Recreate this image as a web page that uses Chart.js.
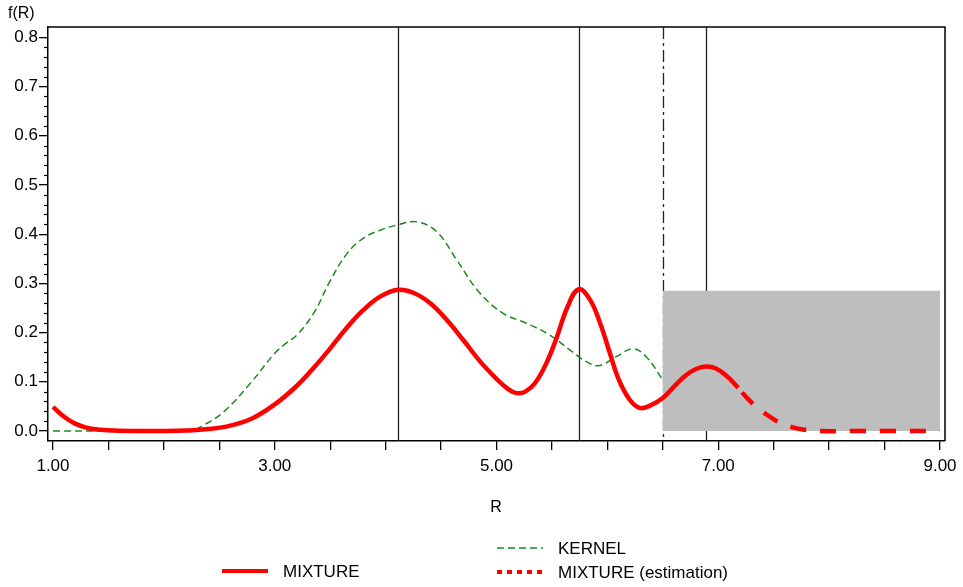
<!DOCTYPE html>
<html>
<head>
<meta charset="utf-8">
<script src="https://cdn.jsdelivr.net/npm/chart.js@4/dist/chart.umd.min.js"></script>
<style>
  html, body { margin: 0; padding: 0; background: #fff; }
  #wrap { width: 963px; height: 587px; position: relative; }
</style>
</head>
<body>
<div id="wrap"><canvas id="c" width="963" height="587"></canvas></div>
<script>
// ---- data ----
const mixtureR = [1.0, 1.1, 1.2, 1.3, 1.4, 1.55, 1.8, 2.0, 2.2, 2.4, 2.6, 2.8, 3.0, 3.2, 3.35, 3.5, 3.65, 3.8, 3.95, 4.11, 4.25, 4.4, 4.55, 4.7, 4.85, 5.0, 5.1, 5.18, 5.26, 5.35, 5.45, 5.54, 5.64, 5.74, 5.84, 5.93, 6.02, 6.1, 6.2, 6.29, 6.38, 6.5, 6.6, 6.7, 6.8, 6.89, 6.98, 7.08, 7.18];
const mixtureF = [0.049, 0.029, 0.015, 0.007, 0.003, 0.001, 0.0, 0.0, 0.001, 0.004, 0.011, 0.026, 0.054, 0.092, 0.128, 0.168, 0.210, 0.246, 0.273, 0.287, 0.281, 0.260, 0.226, 0.185, 0.142, 0.106, 0.086, 0.077, 0.080, 0.098, 0.138, 0.188, 0.252, 0.288, 0.268, 0.222, 0.160, 0.106, 0.064, 0.047, 0.051, 0.067, 0.090, 0.112, 0.126, 0.131, 0.127, 0.111, 0.088];
const estimationR = [7.18, 7.26, 7.34, 7.42, 7.53, 7.65, 7.76, 7.9, 8.2, 8.6, 9.0];
const estimationF = [0.088, 0.067, 0.050, 0.036, 0.020, 0.009, 0.003, 0.0, 0.0, 0.0, 0.0];
const kernelR = [1.0, 1.5, 2.0, 2.25, 2.36, 2.54, 2.78, 3.0, 3.1, 3.2, 3.35, 3.5, 3.65, 3.8, 3.95, 4.11, 4.28, 4.46, 4.64, 4.84, 5.06, 5.27, 5.48, 5.66, 5.81, 5.93, 6.08, 6.23, 6.35, 6.5];
const kernelF = [0.0, 0.0, 0.0, 0.001, 0.012, 0.039, 0.097, 0.158, 0.178, 0.195, 0.239, 0.305, 0.360, 0.392, 0.408, 0.419, 0.425, 0.405, 0.348, 0.283, 0.239, 0.219, 0.195, 0.165, 0.141, 0.133, 0.151, 0.167, 0.151, 0.104];
const xTickLabels = ['1.00', '3.00', '5.00', '7.00', '9.00'];
const yTickLabels = ['0.0', '0.1', '0.2', '0.3', '0.4', '0.5', '0.6', '0.7', '0.8'];
const refLinesR = [4.11, 5.74, 6.5, 6.89];
const refLinesDashed = [false, false, true, false];
const boxR = [6.5, 9.0];
const boxF = [0.0, 0.285];
const legendLabels = ['MIXTURE', 'KERNEL', 'MIXTURE (estimation)'];

const toPts = (xs, ys) => xs.map((x, i) => ({ x: x, y: ys[i] }));

const FONT = "'Liberation Sans', Arial, Helvetica, sans-serif";
const NARROW = "'Liberation Sans Narrow', 'Liberation Sans', Arial, sans-serif";

const decor = {
  id: 'decor',
  beforeDatasetsDraw(chart) {
    const ctx = chart.ctx, xs = chart.scales.x, ys = chart.scales.y, a = chart.chartArea;
    ctx.save();
    refLinesR.forEach((r, i) => {
      const px = Math.round(xs.getPixelForValue(r)) + 0.5;
      ctx.beginPath();
      ctx.strokeStyle = '#222';
      ctx.lineWidth = 1.3;
      ctx.setLineDash(refLinesDashed[i] ? [12, 4, 3, 4] : []);
      ctx.moveTo(px, a.top);
      ctx.lineTo(px, a.bottom);
      ctx.stroke();
    });
    ctx.setLineDash([]);
    const x0 = xs.getPixelForValue(boxR[0]), x1 = xs.getPixelForValue(boxR[1]);
    const y0 = ys.getPixelForValue(boxF[0]), y1 = ys.getPixelForValue(boxF[1]);
    ctx.fillStyle = '#bebebe';
    ctx.fillRect(x0, y1, x1 - x0, y0 - y1);
    ctx.restore();
  },
  afterDraw(chart) {
    const ctx = chart.ctx, xs = chart.scales.x, ys = chart.scales.y, a = chart.chartArea;
    ctx.save();
    ctx.strokeStyle = '#000';
    ctx.lineWidth = 1.5;
    ctx.beginPath();
    ctx.moveTo(a.left, a.top);
    ctx.lineTo(a.right, a.top);
    ctx.lineTo(a.right, a.bottom);
    ctx.stroke();
    ctx.lineWidth = 1.2;
    for (let k = 1; k < 41; k++) {
      if (k % 5 === 0) continue;
      const py = Math.round(ys.getPixelForValue(k * 0.02)) + 0.5;
      ctx.beginPath();
      ctx.moveTo(a.left - 4, py);
      ctx.lineTo(a.left, py);
      ctx.stroke();
    }
    ctx.fillStyle = '#000';
    ctx.font = '16px ' + FONT;
    ctx.textAlign = 'left';
    ctx.textBaseline = 'middle';
    ctx.fillText('f(R)', 8, 14);
    ctx.font = '16px ' + NARROW;
    ctx.textAlign = 'center';
    ctx.fillText('R', 496, 508);
    ctx.textAlign = 'left';
    ctx.font = '17px ' + FONT;
    const items = [
      { x: 222, y: 571, color: '#ff0000', w: 4, dash: [], label: legendLabels[0] },
      { x: 497, y: 548, color: '#1a8a1a', w: 1.5, dash: [7, 4], label: legendLabels[1] },
      { x: 497, y: 572, color: '#ff0000', w: 4, dash: [5, 5], label: legendLabels[2] }
    ];
    items.forEach(it => {
      ctx.beginPath();
      ctx.strokeStyle = it.color;
      ctx.lineWidth = it.w;
      ctx.setLineDash(it.dash);
      ctx.moveTo(it.x, it.y);
      ctx.lineTo(it.x + 46, it.y);
      ctx.stroke();
      ctx.setLineDash([]);
      ctx.fillText(it.label, it.x + 61, it.y + 1);
    });
    ctx.restore();
  }
};

new Chart(document.getElementById('c'), {
  type: 'line',
  data: {
    datasets: [
      { label: legendLabels[0], data: toPts(mixtureR, mixtureF), borderColor: '#ff0000', borderWidth: 4.5,
        pointRadius: 0, tension: 0.4, fill: false, order: 1 },
      { label: legendLabels[2], data: toPts(estimationR, estimationF), borderColor: '#ff0000', borderWidth: 4.5,
        borderDash: [16, 14], borderDashOffset: -6, pointRadius: 0, tension: 0.4, fill: false, order: 1 },
      { label: legendLabels[1], data: toPts(kernelR, kernelF), borderColor: '#1a8a1a', borderWidth: 1.5,
        borderDash: [7, 4], pointRadius: 0, tension: 0.4, fill: false, order: 2 }
    ]
  },
  options: {
    responsive: false,
    devicePixelRatio: 1,
    animation: false,
    layout: { padding: { left: 0, top: 27, right: 18, bottom: 76 } },
    plugins: { legend: { display: false }, tooltip: { enabled: false } },
    scales: {
      x: {
        type: 'linear', min: 0.955, max: 9.045,
        afterFit: s => { s.height = 70; },
        ticks: {
          stepSize: 0.5, includeBounds: false, autoSkip: false, maxRotation: 0,
          padding: 6, color: '#000', font: { family: NARROW, size: 17 },
          callback: v => { const t = Number(v).toFixed(2); return xTickLabels.includes(t) ? t : ''; }
        },
        grid: { display: true, drawOnChartArea: false, drawTicks: true, tickLength: 9, color: '#000', lineWidth: 1.3 },
        border: { display: true, color: '#000', width: 1.5 }
      },
      y: {
        type: 'linear', min: -0.0203, max: 0.821,
        afterFit: s => { s.width = 48; },
        ticks: {
          stepSize: 0.1, includeBounds: false, padding: 1, color: '#000', font: { family: FONT, size: 17 },
          callback: v => { const t = Number(v).toFixed(1); return yTickLabels.includes(t) ? t : ''; }
        },
        grid: { display: true, drawOnChartArea: false, drawTicks: true, tickLength: 9, color: '#000', lineWidth: 1.3 },
        border: { display: true, color: '#000', width: 1.5 }
      }
    }
  },
  plugins: [decor]
});
</script>
</body>
</html>
